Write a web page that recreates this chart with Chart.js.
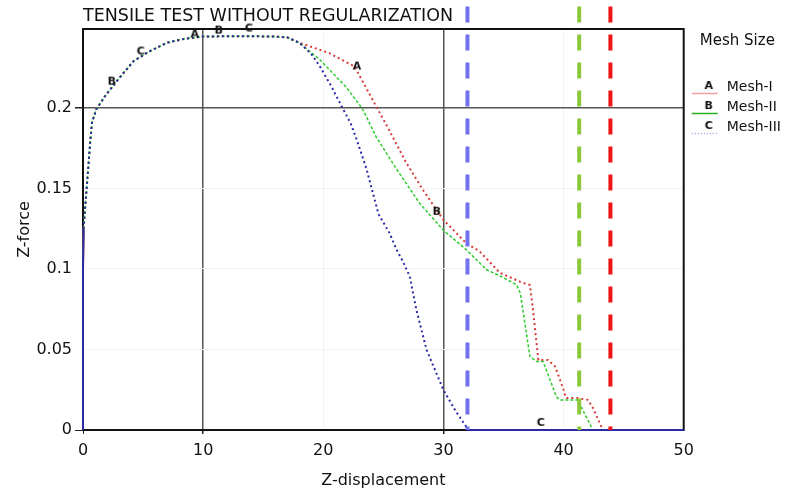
<!DOCTYPE html>
<html>
<head>
<meta charset="utf-8">
<script src="https://cdn.jsdelivr.net/npm/chart.js@4.4.1/dist/chart.umd.min.js"></script>
<style>
  html, body { margin: 0; padding: 0; background: #fff; }
  #wrap { width: 791px; height: 493px; }
</style>
</head>
<body>
<div id="wrap"><canvas id="chart"></canvas></div>
<script>
// ── Data ────────────────────────────────────
const xTicks = [0, 10, 20, 30, 40, 50];
const yTicks = [0, 0.05, 0.1, 0.15, 0.2];
const yMax = 0.249;

// shared loading branch (all meshes coincide)
const riseX = [0, 0, 0.05, 0.15, 0.3, 0.45, 0.6, 0.75, 1.1, 1.8, 2.9, 4.2, 5.5, 7, 8.5, 10, 12, 14, 16, 17];
const riseY = [0, 0.1, 0.125, 0.135, 0.15, 0.164, 0.179, 0.191, 0.199, 0.207, 0.2175, 0.229, 0.235, 0.2405, 0.243, 0.2443, 0.2445, 0.2445, 0.2443, 0.2438];

// softening branches
const mesh1X = [18, 20.5, 22.6, 24.4, 25.5, 26.9, 28.3, 30, 31.9, 33, 34.7, 36.4, 37.2, 37.45, 37.9, 38.7, 39.3, 40, 40.2, 41.1, 42, 42.4, 43.15, 43.2];
const mesh1Y = [0.2405, 0.234, 0.2257, 0.201, 0.186, 0.166, 0.149, 0.1305, 0.116, 0.111, 0.0976, 0.092, 0.09, 0.075, 0.0435, 0.0435, 0.0394, 0.025, 0.0199, 0.0199, 0.0187, 0.0145, 0.002, 0];

const mesh2X = [18, 19.7, 21.9, 23.3, 24.4, 26.1, 28, 30, 31.9, 33.6, 34.9, 36.1, 36.4, 37.2, 37.75, 38.3, 39.4, 39.7, 41.2, 41.6, 42.3, 42.35];
const mesh2Y = [0.2405, 0.23, 0.213, 0.199, 0.182, 0.162, 0.141, 0.124, 0.112, 0.0995, 0.095, 0.09, 0.085, 0.0456, 0.0425, 0.0425, 0.0207, 0.0187, 0.0187, 0.0124, 0.002, 0];

const mesh3X = [18, 19, 19.7, 20.7, 21.6, 22.3, 22.8, 23.6, 24.1, 24.6, 25.5, 26.1, 26.6, 27.2, 27.75, 28.6, 30, 31, 31.9, 32, 50];
const mesh3Y = [0.2405, 0.2335, 0.226, 0.213, 0.2, 0.19, 0.18, 0.162, 0.148, 0.134, 0.1225, 0.112, 0.105, 0.0953, 0.0746, 0.0497, 0.0249, 0.012, 0.002, 0, 0];

// failure displacement markers (dashed verticals)
const failX = [32, 41.3, 43.9];
const failTop = 0.263;

// letter symbols along the curves
const markAX = [9.3, 22.8];
const markAY = [0.2456, 0.2257];
const markBX = [2.4, 11.3, 29.45];
const markBY = [0.2163, 0.248, 0.1355];
const markCX = [4.8, 13.8, 38.1];
const markCY = [0.235, 0.2493, 0.0044];

// ── Helpers ─────────────────────────────────
const FONT = "'DejaVu Sans'";
const failColors = ['#7272ee', '#8cc83c', '#ee1414'];

function pts(xs, ys) {
    return xs.map((x, i) => ({ x, y: ys[i] }));
}

function letterIcon(ch, w, h, lineColor, lineDash) {
    const c = document.createElement('canvas');
    c.width = w; c.height = h;
    const g = c.getContext('2d');
    if (lineColor) {
        g.strokeStyle = lineColor;
        g.lineWidth = 1.5;
        g.setLineDash(lineDash || []);
        g.beginPath();
        g.moveTo(2, h - 3.5);
        g.lineTo(w - 2, h - 3.5);
        g.stroke();
    }
    g.fillStyle = '#111';
    g.font = 'bold 11px ' + FONT;
    g.textAlign = 'center';
    g.textBaseline = 'middle';
    g.fillText(ch, lineColor ? w / 2 + 4 : w / 2, lineColor ? h / 2 - 1 : h / 2);
    return c;
}

const curve = (label, xs, ys, color, width, dash, legendIcon) => ({
    label,
    data: pts(riseX.concat(xs), riseY.concat(ys)),
    borderColor: color,
    backgroundColor: color,
    borderWidth: width,
    borderDash: dash,
    pointRadius: 0,
    pointStyle: legendIcon,
    tension: 0,
    fill: false,
    clip: false,
    segment: {
        borderDash: ctx => ((ctx.p0.parsed.y === 0 && ctx.p1.parsed.y === 0) ||
            (ctx.p0.parsed.x < 0.1 && ctx.p1.parsed.x < 0.1)) ? [] : undefined,
    },
});

const marker = (label, xs, ys) => ({
    label,
    data: pts(xs, ys),
    showLine: false,
    pointStyle: letterIcon(label, 12, 14),
    pointRadius: 6,
    clip: false,
});

const datasets = [
    ...failX.map((x, i) => ({
        label: 'fail' + i,
        data: [{ x, y: failTop }, { x, y: 0 }],
        borderColor: failColors[i],
        borderWidth: 4,
        borderDash: [16, 12],
        pointRadius: 0,
        clip: false,
    })),
    marker('A', markAX, markAY),
    marker('B', markBX, markBY),
    marker('C', markCX, markCY),
    curve('Mesh-III', mesh3X, mesh3Y, '#2a2aa6', 2, [2, 3], letterIcon('C', 30, 20, '#9a9ae6', [1, 2])),
    curve('Mesh-II', mesh2X, mesh2Y, '#2fcc2f', 1.5, [3, 2], letterIcon('B', 30, 20, '#22b022')),
    curve('Mesh-I', mesh1X, mesh1Y, '#d83a3a', 2, [2, 3], letterIcon('A', 30, 20, '#f0a0a0')),
];

// plot frame round the chart area
const frame = {
    id: 'frame',
    beforeDatasetsDraw(chart) {
        const { ctx, chartArea: a } = chart;
        ctx.save();
        ctx.strokeStyle = '#111';
        ctx.lineWidth = 2;
        ctx.strokeRect(a.left, a.top, a.right - a.left, a.bottom - a.top);
        ctx.restore();
    },
};

const darkX = v => v === 10 || v === 30;
const darkY = v => Math.abs(v - 0.2) < 1e-9;

new Chart(document.getElementById('chart'), {
    type: 'line',
    data: { datasets },
    plugins: [frame],
    options: {
        responsive: true,
        maintainAspectRatio: false,
        animation: false,
        events: [],
        layout: { padding: 0 },
        plugins: {
            title: {
                display: true,
                text: 'TENSILE TEST WITHOUT REGULARIZATION',
                align: 'start',
                fullSize: false,
                color: '#111',
                font: { family: FONT, size: 17.5, weight: 'normal' },
                padding: { top: 6, bottom: 2 },
            },
            legend: {
                position: 'right',
                align: 'start',
                title: {
                    display: true,
                    text: 'Mesh Size',
                    color: '#111',
                    font: { family: FONT, size: 15 },
                    padding: { top: 33.5, bottom: 22.5 },
                },
                labels: {
                    usePointStyle: true,
                    pointStyleWidth: 30,
                    padding: 6,
                    color: '#111',
                    font: { family: FONT, size: 14 },
                    filter: item => item.text.startsWith('Mesh'),
                    sort: (a, b) => a.text.localeCompare(b.text),
                },
            },
            tooltip: { enabled: false },
        },
        scales: {
            x: {
                type: 'linear',
                min: 0,
                max: 50,
                afterBuildTicks: s => { s.ticks = xTicks.map(v => ({ value: v })); },
                afterFit: s => { s.height = 63; },
                ticks: { color: '#111', font: { family: FONT, size: 16 }, padding: 7, maxRotation: 0 },
                grid: {
                    color: c => darkX(c.tick.value) ? '#555' : '#f2f2f2',
                    lineWidth: c => darkX(c.tick.value) ? 1.5 : 1,
                    tickColor: c => (c.tick.value === 0 || darkX(c.tick.value)) ? '#222' : 'rgba(0,0,0,0)',
                    tickLength: 4,
                },
                border: { display: false },
                title: {
                    display: true,
                    text: 'Z-displacement',
                    color: '#111',
                    font: { family: FONT, size: 16 },
                    padding: { top: 0, bottom: 3 },
                },
            },
            y: {
                min: 0,
                max: yMax,
                afterBuildTicks: s => { s.ticks = yTicks.map(v => ({ value: v })); },
                afterFit: s => { s.width = 83; },
                ticks: {
                    color: '#111',
                    font: { family: FONT, size: 16 },
                    padding: 3,
                    callback: v => String(+v.toFixed(4)),
                },
                grid: {
                    color: c => darkY(c.tick.value) ? '#555' : '#f2f2f2',
                    lineWidth: c => darkY(c.tick.value) ? 1.5 : 1,
                    tickColor: c => (c.tick.value === 0 || darkY(c.tick.value)) ? '#222' : 'rgba(0,0,0,0)',
                    tickLength: 8,
                },
                border: { display: false },
                title: {
                    display: true,
                    text: 'Z-force',
                    color: '#111',
                    font: { family: FONT, size: 16 },
                    padding: { top: 15, bottom: 0 },
                },
            },
        },
    },
});
</script>
</body>
</html>
